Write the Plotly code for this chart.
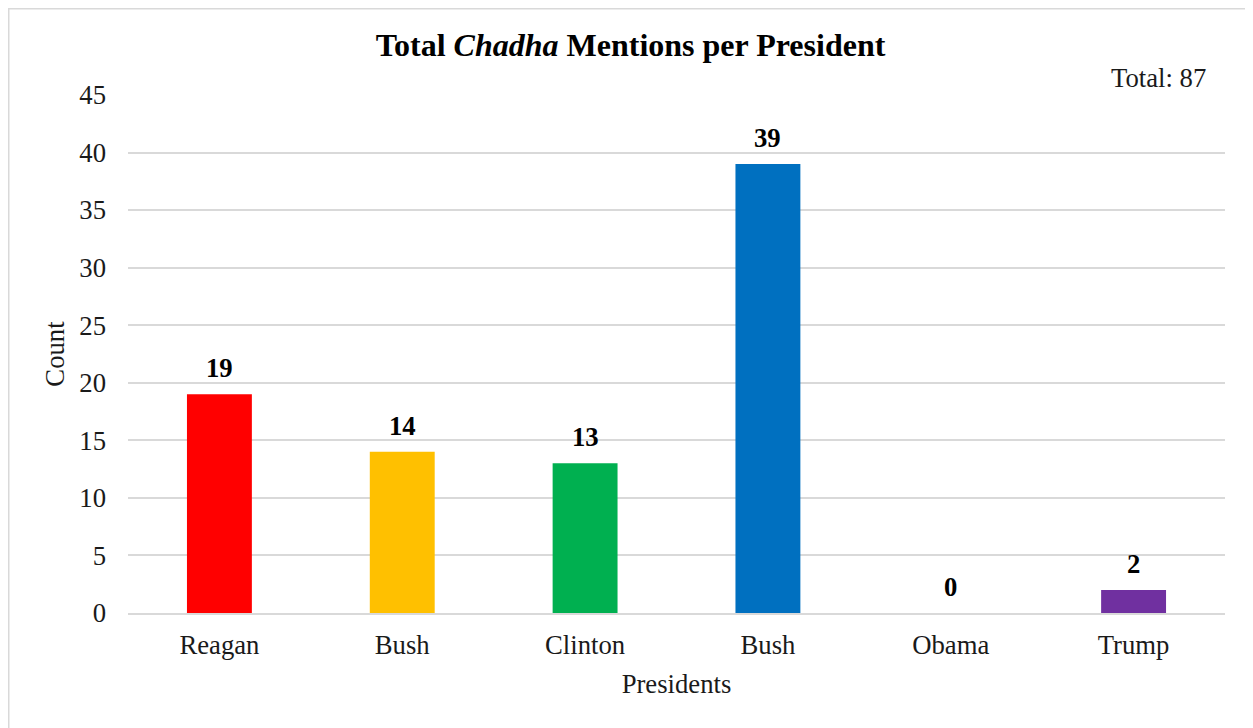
import plotly.graph_objects as go

presidents = ["Reagan", "Bush", "Clinton", "Bush", "Obama", "Trump"]
counts = [19, 14, 13, 39, 0, 2]
colors = ["#FF0000", "#FFC000", "#00B050", "#0070C0", "#A5A5A5", "#7030A0"]
positions = list(range(len(presidents)))
total = sum(counts)

FONT = "Liberation Serif, Times New Roman, serif"
FS = 26.7

fig = go.Figure(go.Bar(
    x=positions, y=counts,
    marker=dict(color=colors, line=dict(width=0)),
    width=0.355,
    hoverinfo="x+y",
))

# page has an 8px body margin, so figure coords = page coords - 8
W, H = 1245, 720
L, R, T, B = 120, 28, 87, 115
pw, ph = W - L - R, H - T - B

def px_x(x):
    return (x - L) / pw

def px_y(y):
    return (H - B - y) / ph

annotations = [dict(text=f"<b>{c}</b>", x=p, y=c, xref="x", yref="y",
                    yshift=26, yanchor="middle", xanchor="center", showarrow=False,
                    font=dict(family=FONT, size=FS, color="black"))
               for p, c in zip(positions, counts)]
annotations.append(dict(text=f"Total: {total}", xref="paper", yref="paper",
                        x=px_x(1200), y=px_y(70), xanchor="right", yanchor="middle",
                        showarrow=False, font=dict(size=FS, color="#1a1a1a")))

fig.update_layout(
    width=W, height=H,
    margin=dict(l=L, r=R, t=T, b=B),
    paper_bgcolor="white", plot_bgcolor="white",
    font=dict(family=FONT, size=FS, color="#1a1a1a"),
    showlegend=False,
    title=dict(text="<b>Total <i>Chadha</i> Mentions per President</b>",
               x=0.5, xanchor="center", y=1 - 37 / H, yanchor="middle",
               font=dict(family=FONT, size=32, color="black")),
    xaxis=dict(tickmode="array", tickvals=positions, ticktext=presidents,
               range=[-0.5, len(presidents) - 0.5],
               showgrid=False, showline=True, linecolor="#d9d9d9", linewidth=2,
               ticks="", ticklabelstandoff=7, tickfont=dict(size=FS, color="#1a1a1a"),
               title=dict(text="Presidents", font=dict(size=FS, color="#1a1a1a"), standoff=15)),
    yaxis=dict(range=[0, 45], dtick=5, showgrid=True, gridcolor="#d9d9d9", gridwidth=1.5,
               zeroline=False, showline=False, ticks="",
               ticklabelstandoff=21,
               tickfont=dict(size=FS, color="#1a1a1a"),
               title=dict(text="Count", font=dict(size=FS, color="#1a1a1a"), standoff=6)),
    annotations=annotations,
    shapes=[dict(type="rect", xref="paper", yref="paper",
                 x0=px_x(0.75), x1=px_x(1242), y0=px_y(0.75), y1=px_y(730),
                 line=dict(color="#d9d9d9", width=1.5), fillcolor="rgba(0,0,0,0)",
                 layer="below")],
)

fig.write_html("out.html")
